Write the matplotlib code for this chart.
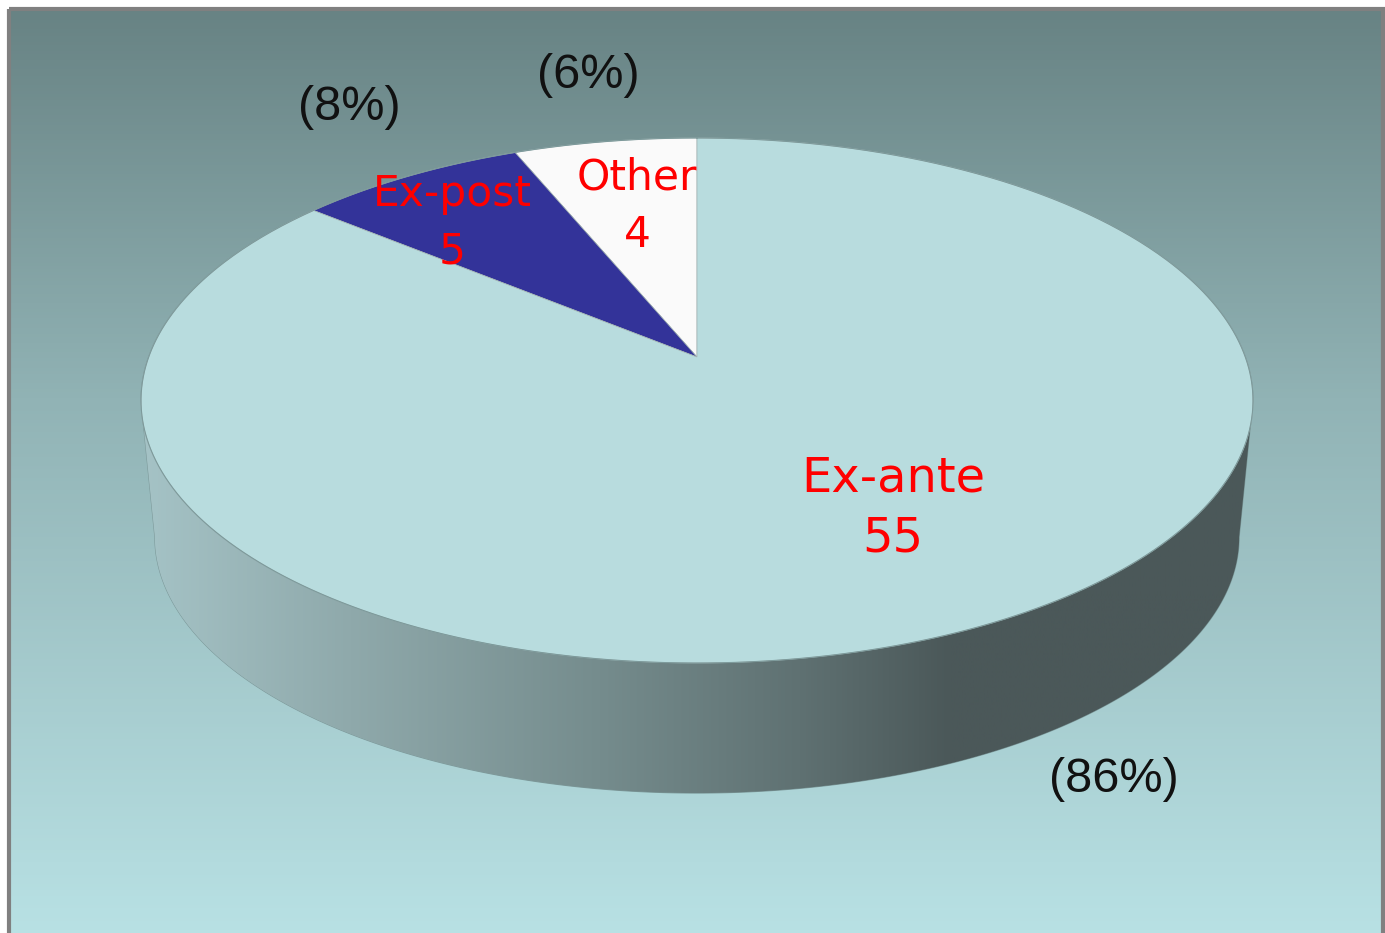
import matplotlib.pyplot as plt
from matplotlib.patches import Polygon, Rectangle
import numpy as np

# survey counts by evaluation type
categories = ['Ex-ante', 'Ex-post', 'Other']
counts = [55, 5, 4]
slice_colors = ['#b8dcde', '#333399', '#fafafa']

total = sum(counts)
pct_labels = [f"({round(100 * c / total)}%)" for c in counts]

# label placement (pixels): name/count lines and percent text
name_pos = {'Ex-ante': (893, 492, 551, 34.5),
            'Ex-post': (452, 206, 263, 30.5),
            'Other': (637, 189, 247, 30.5)}
pct_pos = {'Ex-ante': (1114, 792), 'Ex-post': (349, 120), 'Other': (588, 88)}

# perspective disc projection
cx, cy = 697, 357
A, B, k = 548.3, 255.3, 0.1657
vy, shrink = 5886, 0.9751


def proj(t, bottom=False):
    X = -np.sin(t)
    Y = np.cos(t)
    w = 1 + k * Y
    xs = cx + A * X / w
    ys = cy - B * Y / w
    if bottom:
        xs = cx + shrink * (xs - cx)
        ys = vy + shrink * (ys - vy)
    return xs, ys


W, H = 1385, 933
fig = plt.figure(figsize=(W / 100, H / 100), dpi=100)
fig.patch.set_facecolor('white')
ax = fig.add_axes([0, 0, 1, 1])
ax.set_xlim(0, W)
ax.set_ylim(H, 0)
ax.axis('off')

# background gradient
yy = np.linspace(0, 1, 300)
stops = np.array([0, 0.42, 1.0])
top_c = np.array([[104, 131, 132], [145, 179, 181], [184, 225, 228]]) / 255
bg = np.stack([np.interp(yy, stops, top_c[:, i]) for i in range(3)], axis=-1)
ax.imshow(bg[:, None, :], extent=[11, 1381, H, 11], aspect='auto', zorder=0)
ax.add_patch(Rectangle((9, 9), 1374, 940, fill=False, ec='#808080', lw=3, zorder=1))

# side wall
t_side = np.radians(90) + np.arcsin(k)
t_far = np.linspace(t_side, -t_side, 400)
t_near = np.linspace(2 * np.pi - t_side, t_side, 400)
fx, fy = proj(t_far)
nx, ny = proj(t_near, bottom=True)
side = Polygon(np.column_stack([np.r_[fx, nx], np.r_[fy, ny]]), closed=True,
               fc='none', ec='#7d9a9b', lw=0.8, zorder=2)
ax.add_patch(side)

xg = np.linspace(0, 1, 400)
gx = np.array([141, 350, 600, 800, 950, 1253])
gx = (gx - 141) / (1253 - 141)
gc = np.array([[165, 195, 198], [143, 169, 171], [117, 140, 141],
               [95, 113, 114], [75, 88, 89], [75, 88, 89]]) / 255
side_grad = np.stack([np.interp(xg, gx, gc[:, i]) for i in range(3)], axis=-1)
im = ax.imshow(side_grad[None, :, :], extent=[141, 1253, 810, 380], aspect='auto', zorder=2)
im.set_clip_path(side)

# top slices, counter-clockwise from 12 o'clock
start = 0.0
for name, c, col in reversed(list(zip(categories, counts, slice_colors))):
    span = 2 * np.pi * c / total
    tt = np.linspace(start, start + span, max(int(c * 40), 20))
    px, py = proj(tt)
    poly = np.column_stack([np.r_[cx, px], np.r_[cy, py]])
    ax.add_patch(Polygon(poly, closed=True, fc=col, ec='#a3b3b3', lw=0.5, zorder=3))
    start += span

rx, ry = proj(np.linspace(0, 2 * np.pi, 600))
ax.plot(rx, ry, color='#7d9a9b', lw=0.8, zorder=4)

for name, pct in zip(categories, pct_labels):
    x, y1, y2, fs = name_pos[name]
    ax.text(x, y1, name, color='red', fontsize=fs, family='DejaVu Sans',
            ha='center', va='baseline', zorder=5)
    ax.text(x, y2, str(counts[categories.index(name)]), color='red', fontsize=fs,
            family='DejaVu Sans', ha='center', va='baseline', zorder=5)
    px_, py_ = pct_pos[name]
    ax.text(px_, py_, pct, color='#111111', fontsize=35, family='Liberation Sans',
            ha='center', va='baseline', zorder=5)

fig.savefig('out.png', dpi=100)
